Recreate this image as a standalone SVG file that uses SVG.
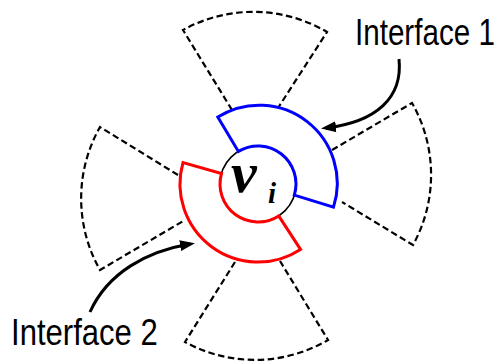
<svg xmlns="http://www.w3.org/2000/svg" width="501" height="363" viewBox="0 0 501 363">
<defs>
<style>
.dash{fill:none;stroke:#000;stroke-width:2.2;stroke-dasharray:6.5 3.5;stroke-linejoin:miter}
.ring{fill:none;stroke-width:3;stroke-linejoin:miter}
.lbl{font-family:"Liberation Sans",Arial,sans-serif;font-size:37px;fill:#000}
.arr{fill:none;stroke:#000;stroke-width:3}
</style>
<marker id="ah" markerUnits="userSpaceOnUse" markerWidth="16" markerHeight="12" refX="10" refY="6" orient="auto">
<path d="M0,0.5 L15,6 L0,11.5 z" fill="#000"/>
</marker>
</defs>
<rect width="501" height="363" fill="#fff"/>
<g id="neighbor-top"><path class="dash" d="M232,110 L183,30 A145,145 0 0 1 327,32 L278,108"/></g>
<g id="neighbor-left"><path class="dash" d="M178,175 L100,127 A145,145 0 0 0 100,270 L185,220"/></g>
<g id="neighbor-right"><path class="dash" d="M332,150 L412,103 A145,145 0 0 1 413,245 L342,202"/></g>
<g id="neighbor-bottom"><path class="dash" d="M235,262 L185,342 A145,145 0 0 0 328,340 L280,261"/></g>
<g id="node-vi">
<circle cx="258" cy="184" r="38" fill="#fff" stroke="#000" stroke-width="1.6"/>
<text x="231" y="192" font-family="'Liberation Serif','Times New Roman',serif" font-weight="bold" font-style="italic" font-size="58" fill="#000">v</text>
<text x="268" y="203" font-family="'Liberation Serif','Times New Roman',serif" font-weight="bold" font-style="italic" font-size="29" fill="#000">i</text>
</g>
<g id="interface-1"><path class="ring" stroke="#0000ff" d="M217.8,117.1 A78,78 0 0 1 333.5,207.1 L294.3,195.1 A38,38 0 0 0 238.4,151.4 Z"/></g>
<g id="interface-2"><path class="ring" stroke="#ff0000" d="M300.5,249.4 A78,78 0 0 1 183,162.5 L221.5,173.5 A38,38 0 0 0 278.7,215.9 Z"/></g>
<g id="connectors">
<path class="arr" d="M399,59 C403,98 376,122 326,128" marker-end="url(#ah)"/>
<path class="arr" d="M90,312 C108,272 148,251 190,244" marker-end="url(#ah)"/>
</g>
<g id="labels">
<text class="lbl" transform="translate(355,45) scale(0.8,1)">Interface 1</text>
<text class="lbl" transform="translate(11,345) scale(0.84,1)">Interface 2</text>
</g>
</svg>
